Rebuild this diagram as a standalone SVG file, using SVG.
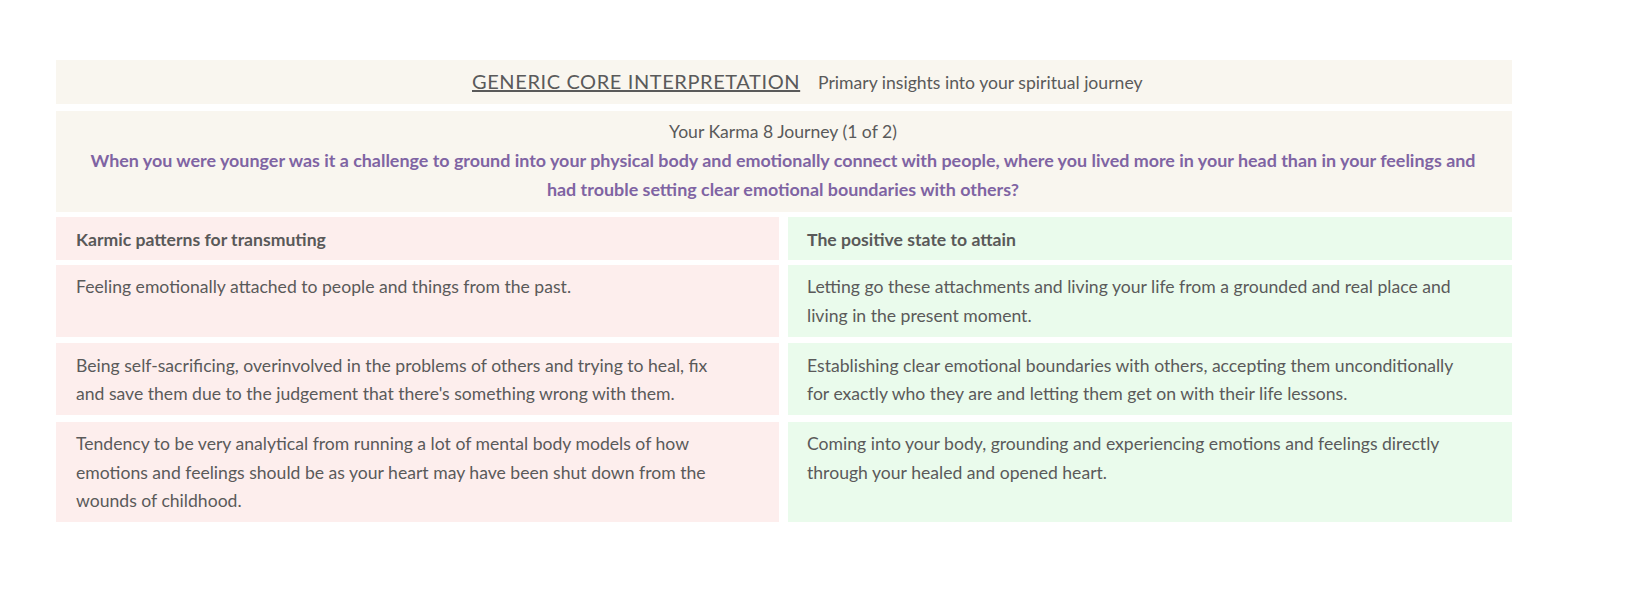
<svg xmlns="http://www.w3.org/2000/svg" width="1640" height="600" viewBox="0 0 1640 600">
<style>
text{font-family:Lato,"Open Sans",sans-serif;fill:#5a5a5a;font-size:17.6px}
.b{font-weight:bold;fill:#595959}
.p{fill:#7f64a3;font-weight:bold;font-size:17.9px}
.cream{fill:#f9f6ef}.red{fill:#fdeeed}.grn{fill:#eafbec}
</style>
<rect width="1640" height="600" fill="#fff"/>
<g id="header"><rect class="cream" x="56" y="60" width="1456" height="44"/>
<text x="472" y="89" style="font-size:20px;letter-spacing:0.6px" text-decoration="underline">GENERIC CORE INTERPRETATION</text>
<text x="818" y="89">Primary insights into your spiritual journey</text></g>
<g id="question"><rect class="cream" x="56" y="111" width="1456" height="101"/>
<text x="783" y="138" text-anchor="middle">Your Karma 8 Journey (1 of 2)</text>
<text class="p" x="783" y="167" text-anchor="middle">When you were younger was it a challenge to ground into your physical body and emotionally connect with people, where you lived more in your head than in your feelings and</text>
<text class="p" x="783" y="196" text-anchor="middle">had trouble setting clear emotional boundaries with others?</text></g>
<g id="left-head"><rect class="red" x="56" y="217" width="723" height="43"/><text class="b" x="76" y="246">Karmic patterns for transmuting</text></g>
<g id="right-head"><rect class="grn" x="788" y="217" width="724" height="43"/><text class="b" x="807" y="246">The positive state to attain</text></g>
<g id="l1"><rect class="red" x="56" y="265" width="723" height="72"/><text x="76" y="293">Feeling emotionally attached to people and things from the past.</text></g>
<g id="r1"><rect class="grn" x="788" y="265" width="724" height="72"/><text x="807" y="293">Letting go these attachments and living your life from a grounded and real place and</text><text x="807" y="322">living in the present moment.</text></g>
<g id="l2"><rect class="red" x="56" y="343" width="723" height="72"/><text x="76" y="372">Being self-sacrificing, overinvolved in the problems of others and trying to heal, fix</text><text x="76" y="400">and save them due to the judgement that there's something wrong with them.</text></g>
<g id="r2"><rect class="grn" x="788" y="343" width="724" height="72"/><text x="807" y="372">Establishing clear emotional boundaries with others, accepting them unconditionally</text><text x="807" y="400">for exactly who they are and letting them get on with their life lessons.</text></g>
<g id="l3"><rect class="red" x="56" y="422" width="723" height="100"/><text x="76" y="450">Tendency to be very analytical from running a lot of mental body models of how</text><text x="76" y="479">emotions and feelings should be as your heart may have been shut down from the</text><text x="76" y="507">wounds of childhood.</text></g>
<g id="r3"><rect class="grn" x="788" y="422" width="724" height="100"/><text x="807" y="450">Coming into your body, grounding and experiencing emotions and feelings directly</text><text x="807" y="479">through your healed and opened heart.</text></g>
<g id="connectors"/>
</svg>
